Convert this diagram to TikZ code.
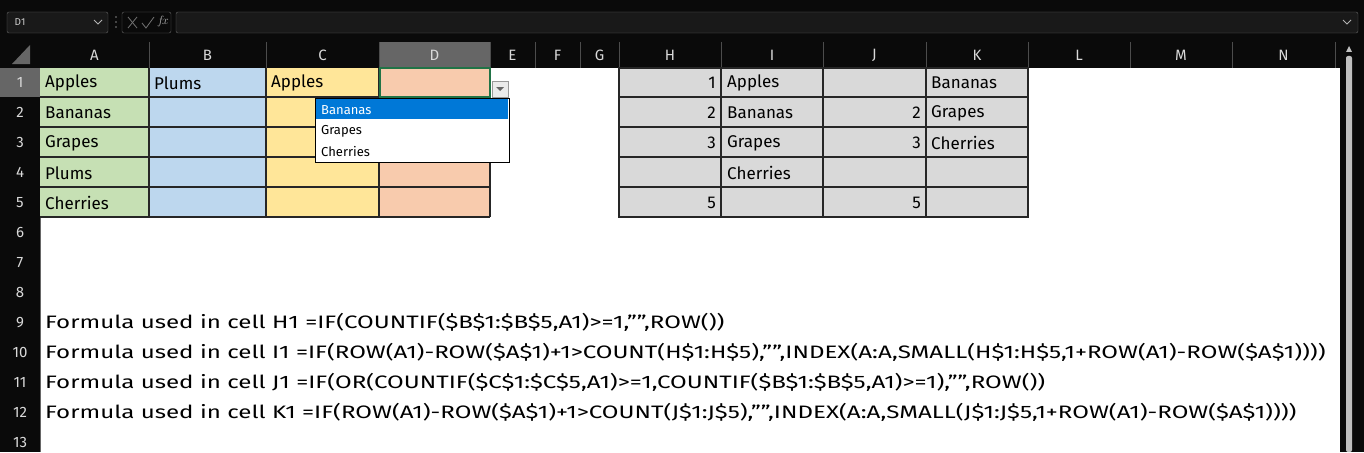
\documentclass[tikz,border=0pt]{standalone}
\usepackage{fontspec}
\setmainfont{Fira Sans}
\definecolor{cg}{RGB}{198,224,180}
\definecolor{cb}{RGB}{189,215,238}
\definecolor{cy}{RGB}{255,230,153}
\definecolor{co}{RGB}{248,203,173}
\definecolor{csel}{RGB}{33,115,70}
\definecolor{cdd}{RGB}{0,120,215}
\newcommand{\qq}{\symbol{34}\symbol{34}}
\newcommand{\frmtxt}[1]{\scalebox{1.34}[1]{#1}}
\begin{document}
\begin{tikzpicture}[x=1pt,y=-1pt,
  hdr/.style={text=white!85!black,font=\fontsize{15}{15}\selectfont,anchor=center},
  cell/.style={font=\fontsize{17}{17}\selectfont,anchor=west,inner sep=0pt},
  num/.style={font=\fontsize{17}{17}\selectfont,anchor=east,inner sep=0pt},
  frm/.style={font=\fontsize{18}{18}\selectfont,anchor=west,inner sep=0pt},
  tb/.style={draw=black!85,line width=1.6pt}]
\useasboundingbox (0,0) rectangle (1364,452);
\fill[black!96] (0,0) rectangle (1364,452);
% formula bar
\draw[black!60,rounded corners=2pt,fill=black!90] (7,12) rectangle (108,33);
\node[text=white!80!black,font=\fontsize{10}{10}\selectfont] (nb) at (20,22) {D1};
\draw[white!70!black,line width=0.8pt] (94,20) -- (98,24) -- (102,20);
\foreach \yy in {17,22,27} \fill[black!50] (116,\yy) circle (0.9);
\draw[black!60,rounded corners=2pt] (122,12) rectangle (171,33);
\draw[black!55,line width=0.8pt] (128,17) -- (137,28) (137,17) -- (128,28);
\draw[black!55,line width=0.8pt] (142,23) -- (146,28) -- (154,17);
\node[text=white!70!black,font=\itshape\fontsize{13}{13}\selectfont] (fx) at (163,22) {$f\!x$};
\draw[black!60,rounded corners=2pt,fill=black!90] (176,12) rectangle (1358,33);
\draw[white!70!black,line width=0.8pt] (1343,20) -- (1347,24) -- (1351,20);
% header triangle
\fill[black!60] (30,45) -- (30,64) -- (12,64) -- cycle;
% grid area
\fill[white] (40,68) rectangle (1340,452);
% column headers
\fill[black!60] (379,42) rectangle (490,68);
\foreach \l/\a/\b in {A/40/149,B/149/266,C/266/379,D/379/490,E/490/535,F/535/580,G/580/619,H/619/721,I/721/823,J/823/926,K/926/1028,L/1028/1130,M/1130/1232,N/1232/1335}{
  \node[hdr] (col\l) at ({(\a+\b)/2},55) {\l};
  \draw[black!70] (\b,42) -- (\b,68);
}
% row headers
\fill[black!60] (0,68) rectangle (40,97);
\foreach \r in {1,...,13}{
  \node[hdr] (row\r) at (20,{68+30*(\r-1)+14.5}) {\r};
}
\draw[black!60,line width=1pt] (40,68) -- (40,452);
% scrollbar
\fill[black!96] (1340,42) rectangle (1364,452);
\fill[white!75!black,rounded corners=2pt] (1346,56) rectangle (1352,452);
\fill[white!75!black] (1346,52) -- (1352,52) -- (1349,46) -- cycle;
% left table fills
\fill[cg] (40,68) rectangle (149,217);
\fill[cb] (149,68) rectangle (266,217);
\fill[cy] (266,68) rectangle (379,217);
\fill[co] (379,68) rectangle (490,217);
\foreach \x in {149,266,379} \draw[tb] (\x,68) -- (\x,217);
\foreach \y in {97,127,157,187} \draw[tb] (40,\y) -- (490,\y);
\draw[tb] (40,217) -- (490,217) (490,68) -- (490,217);
\draw[csel,line width=1.2pt] (380,68) rectangle (490,97);
\node[cell] (a1) at (45,83) {Apples};
\node[cell] (a2) at (45,113) {Bananas};
\node[cell] (a3) at (45,143) {Grapes};
\node[cell] (a4) at (45,173) {Plums};
\node[cell] (a5) at (45,203) {Cherries};
\node[cell] (b1) at (154,83) {Plums};
\node[cell] (c1) at (271,83) {Apples};
% right table
\fill[black!15] (619,68) rectangle (1028,217);
\foreach \x in {721,823,926} \draw[tb] (\x,68) -- (\x,217);
\foreach \y in {97,127,157,187} \draw[tb] (619,\y) -- (1028,\y);
\draw[tb] (619,68) rectangle (1028,217);
\node[num] (h1) at (716,83) {1};
\node[num] (h2) at (716,113) {2};
\node[num] (h3) at (716,143) {3};
\node[num] (h5) at (716,203) {5};
\node[cell] (i1) at (727,83) {Apples};
\node[cell] (i2) at (727,113) {Bananas};
\node[cell] (i3) at (727,143) {Grapes};
\node[cell] (i4) at (727,173) {Cherries};
\node[num] (j2) at (921,113) {2};
\node[num] (j3) at (921,143) {3};
\node[num] (j5) at (921,203) {5};
\node[cell] (k1) at (931,83) {Bananas};
\node[cell] (k2) at (931,113) {Grapes};
\node[cell] (k3) at (931,143) {Cherries};
% dropdown
\draw[black!40,fill=black!8] (492,81) rectangle (508,97);
\fill[black!60] (496,87) -- (504,87) -- (500,91) -- cycle;
\draw[black,fill=white] (315,98) rectangle (509,162);
\fill[cdd] (316,99) rectangle (508,119);
\node[anchor=west,inner sep=0pt,text=white,font=\fontsize{13}{13}\selectfont] (dd1) at (321,110) {Bananas};
\node[anchor=west,inner sep=0pt,font=\fontsize{13}{13}\selectfont] (dd2) at (321,131) {Grapes};
\node[anchor=west,inner sep=0pt,font=\fontsize{13}{13}\selectfont] (dd3) at (321,152) {Cherries};
% formulas
\node[frm] (f9) at (45,322) {\frmtxt{Formula used in cell H1 =IF(COUNTIF(\$B\$1:\$B\$5,A1)>=1,\qq,ROW())}};
\node[frm] (f10) at (45,352) {\frmtxt{Formula used in cell I1 =IF(ROW(A1)-ROW(\$A\$1)+1>COUNT(H\$1:H\$5),\qq,INDEX(A:A,SMALL(H\$1:H\$5,1+ROW(A1)-ROW(\$A\$1))))}};
\node[frm] (f11) at (45,382) {\frmtxt{Formula used in cell J1 =IF(OR(COUNTIF(\$C\$1:\$C\$5,A1)>=1,COUNTIF(\$B\$1:\$B\$5,A1)>=1),\qq,ROW())}};
\node[frm] (f12) at (45,412) {\frmtxt{Formula used in cell K1 =IF(ROW(A1)-ROW(\$A\$1)+1>COUNT(J\$1:J\$5),\qq,INDEX(A:A,SMALL(J\$1:J\$5,1+ROW(A1)-ROW(\$A\$1))))}};
\end{tikzpicture}
\end{document}
